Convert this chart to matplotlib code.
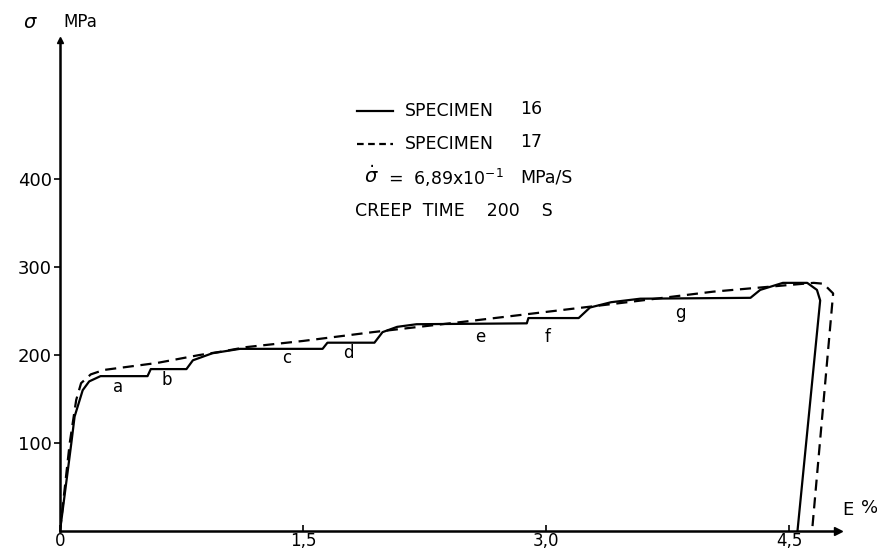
import matplotlib.pyplot as plt

# Specimen 16 (solid) - strain in %, stress in MPa
strain_16 = [0.0, 0.07, 0.09, 0.14, 0.18, 0.25, 0.54, 0.56, 0.78, 0.82, 0.94, 1.11,
             1.62, 1.65, 1.94, 1.99, 2.08, 2.20, 2.88, 2.89, 3.20, 3.27, 3.40, 3.58,
             4.26, 4.32, 4.46, 4.61, 4.67, 4.69, 4.55]
stress_16 = [0, 100, 130, 160, 170, 176, 176, 184, 184, 194, 202, 207,
             207, 214, 214, 226, 232, 235, 236, 242, 242, 254, 260, 264,
             265, 274, 282, 282, 274, 262, 0]

# Specimen 17 (dashed)
strain_17 = [0.0, 0.06, 0.10, 0.13, 0.19, 0.27, 0.60, 0.86, 1.00, 1.15, 1.50, 1.93,
             2.50, 3.00, 3.50, 4.03, 4.40, 4.65, 4.71, 4.77, 4.64]
stress_17 = [0, 100, 149, 168, 178, 183, 191, 200, 204, 209, 216, 226,
             238, 249, 260, 272, 278, 282, 281, 270, 0]

# creep step labels
step_labels = ['a', 'b', 'c', 'd', 'e', 'f', 'g']
step_strain = [0.36, 0.66, 1.40, 1.78, 2.59, 3.01, 3.83]
step_stress = [164, 172, 197, 202, 221, 221, 248]

x_ticks = [0, 1.5, 3.0, 4.5]
x_ticklabels = ['0', '1,5', '3,0', '4,5']
y_ticks = [100, 200, 300, 400]

W, H = 878, 556


def fpos(x, y):
    # pixel -> figure fraction
    return x / W, 1 - y / H


fig = plt.figure(figsize=(8.78, 5.56), dpi=100)
ax = fig.add_axes([60 / W, (H - 531) / H, 778 / W, 491 / H])

ax.plot(strain_16, stress_16, color='black', lw=1.6, solid_joinstyle='round')
ax.plot(strain_17, stress_17, color='black', lw=1.6, linestyle=(0, (5, 3)))

for lab, sx, sy in zip(step_labels, step_strain, step_stress):
    ax.text(sx, sy, lab, fontsize=12, ha='center', va='center')

ax.set_xlim(0, 4.8)
ax.set_ylim(0, 558)
for s in ['top', 'right']:
    ax.spines[s].set_visible(False)
ax.spines['left'].set_linewidth(1.8)
ax.spines['bottom'].set_linewidth(1.8)

ax.set_xticks(x_ticks)
ax.set_xticklabels(x_ticklabels, fontsize=12)
ax.set_yticks(y_ticks)
ax.set_yticklabels([str(v) for v in y_ticks], fontsize=13)
ax.tick_params(axis='x', direction='in', length=4, width=1.2, pad=1)
ax.tick_params(axis='y', direction='out', length=4, width=1.2, pad=2)

# axis arrows
ax.plot(1, 0, marker='>', color='black', markersize=6, transform=ax.transAxes, clip_on=False)
ax.plot(0, 1, marker='^', color='black', markersize=5, transform=ax.transAxes, clip_on=False)

# axis titles
fig.text(*fpos(30, 22), r'$\sigma$', fontsize=14, ha='center', va='center')
fig.text(*fpos(80, 22), 'MPa', fontsize=12, ha='center', va='center')
fig.text(*fpos(848, 510), 'E', fontsize=13, ha='center', va='center')
fig.text(*fpos(870, 508), '%', fontsize=13, ha='center', va='center')

# legend block
fig.add_artist(plt.Line2D([357 / W, 393 / W], [1 - 111 / H] * 2, color='black', lw=1.6))
fig.add_artist(plt.Line2D([357 / W, 393 / W], [1 - 144 / H] * 2, color='black', lw=1.6,
                          linestyle=(0, (3, 2))))
fig.text(*fpos(405, 111), 'SPECIMEN', fontsize=12.5, va='center')
fig.text(*fpos(520, 109), '16', fontsize=12.5, va='center')
fig.text(*fpos(405, 144), 'SPECIMEN', fontsize=12.5, va='center')
fig.text(*fpos(520, 142), '17', fontsize=12.5, va='center')
fig.text(*fpos(364, 176), r'$\dot{\sigma}$', fontsize=14, va='center')
fig.text(*fpos(388, 178), r'=  6,89x10$^{-1}$', fontsize=12.5, va='center')
fig.text(*fpos(520, 178), 'MPa/S', fontsize=12.5, va='center')
fig.text(*fpos(355, 211), 'CREEP  TIME    200    S', fontsize=12.5, va='center')

fig.savefig('out.png', dpi=100)
